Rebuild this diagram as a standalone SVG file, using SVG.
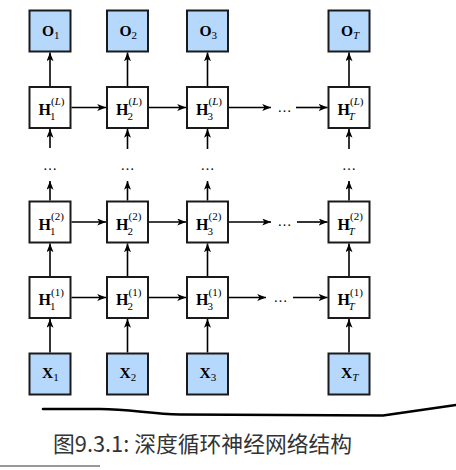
<svg xmlns="http://www.w3.org/2000/svg" width="456" height="470" viewBox="0 0 456 470">
<style>
.box{fill:#ffffff;stroke:#1a1a1a;stroke-width:2}
.io{fill:#b5d8fc;stroke:#1a1a1a;stroke-width:2}
.lbl{font-family:"Liberation Serif",serif;font-weight:bold;font-size:16px;fill:#000}
.big{font-family:"Liberation Serif",serif;font-weight:bold;font-size:15.5px;fill:#000}
.sub{font-family:"Liberation Serif",serif;font-weight:normal;font-size:11px;fill:#000}
.it{font-style:italic}
.dots{font-family:"Liberation Serif",serif;font-size:14px;fill:#000}
.conn line{stroke:#000;stroke-width:1.6;marker-end:url(#ah)}
.cap{font-family:"Noto Sans CJK SC","Noto Sans",sans-serif;font-size:21.8px;fill:#333}
</style>
<defs>
<marker id="ah" viewBox="0 0 10 8" refX="10" refY="4" markerWidth="9" markerHeight="7" markerUnits="userSpaceOnUse" orient="auto">
<path d="M0,0 L10,4 L0,8 L2.5,4 z" fill="#000"/>
</marker>
</defs>

<!-- O row -->
<g id="O1"><rect class="io" x="29.5" y="10.5" width="41" height="41"/><text class="big" x="42" y="36">O<tspan class="sub" dy="3">1</tspan></text></g>
<g id="O2"><rect class="io" x="107" y="10.5" width="41" height="41"/><text class="big" x="119.5" y="36">O<tspan class="sub" dy="3">2</tspan></text></g>
<g id="O3"><rect class="io" x="187" y="10.5" width="41" height="41"/><text class="big" x="199.5" y="36">O<tspan class="sub" dy="3">3</tspan></text></g>
<g id="OT"><rect class="io" x="328.5" y="10.5" width="41" height="41"/><text class="big" x="341" y="36">O<tspan class="sub it" dy="3">T</tspan></text></g>

<!-- H(L) row -->
<g id="HL1"><rect class="box" x="29.5" y="87" width="41" height="41"/><text class="lbl" x="38.5" y="115">H</text><text class="sub" x="51" y="105">(<tspan class="it">L</tspan>)</text><text class="sub" x="50" y="120">1</text></g>
<g id="HL2"><rect class="box" x="107" y="87" width="41" height="41"/><text class="lbl" x="116" y="115">H</text><text class="sub" x="128.5" y="105">(<tspan class="it">L</tspan>)</text><text class="sub" x="127.5" y="120">2</text></g>
<g id="HL3"><rect class="box" x="187" y="87" width="41" height="41"/><text class="lbl" x="196" y="115">H</text><text class="sub" x="208.5" y="105">(<tspan class="it">L</tspan>)</text><text class="sub" x="207.5" y="120">3</text></g>
<g id="HLT"><rect class="box" x="328.5" y="87" width="41" height="41"/><text class="lbl" x="337.5" y="115">H</text><text class="sub" x="350" y="105">(<tspan class="it">L</tspan>)</text><text class="sub it" x="348.5" y="120">T</text></g>

<!-- H(2) row -->
<g id="H21"><rect class="box" x="29.5" y="201.5" width="41" height="41"/><text class="lbl" x="38.5" y="229.5">H</text><text class="sub" x="51" y="220">(2)</text><text class="sub" x="50" y="234.5">1</text></g>
<g id="H22"><rect class="box" x="107" y="201.5" width="41" height="41"/><text class="lbl" x="116" y="229.5">H</text><text class="sub" x="128.5" y="220">(2)</text><text class="sub" x="127.5" y="234.5">2</text></g>
<g id="H23"><rect class="box" x="187" y="201.5" width="41" height="41"/><text class="lbl" x="196" y="229.5">H</text><text class="sub" x="208.5" y="220">(2)</text><text class="sub" x="207.5" y="234.5">3</text></g>
<g id="H2T"><rect class="box" x="328.5" y="201.5" width="41" height="41"/><text class="lbl" x="337.5" y="229.5">H</text><text class="sub" x="350" y="220">(2)</text><text class="sub it" x="348.5" y="234.5">T</text></g>

<!-- H(1) row -->
<g id="H11"><rect class="box" x="29.5" y="277" width="41" height="41"/><text class="lbl" x="38.5" y="305">H</text><text class="sub" x="51" y="295.5">(1)</text><text class="sub" x="50" y="310">1</text></g>
<g id="H12"><rect class="box" x="107" y="277" width="41" height="41"/><text class="lbl" x="116" y="305">H</text><text class="sub" x="128.5" y="295.5">(1)</text><text class="sub" x="127.5" y="310">2</text></g>
<g id="H13"><rect class="box" x="187" y="277" width="41" height="41"/><text class="lbl" x="196" y="305">H</text><text class="sub" x="208.5" y="295.5">(1)</text><text class="sub" x="207.5" y="310">3</text></g>
<g id="H1T"><rect class="box" x="328.5" y="277" width="41" height="41"/><text class="lbl" x="337.5" y="305">H</text><text class="sub" x="350" y="295.5">(1)</text><text class="sub it" x="348.5" y="310">T</text></g>

<!-- X row -->
<g id="X1"><rect class="io" x="29.5" y="353.5" width="41" height="41"/><text class="big" x="42" y="377.5">X<tspan class="sub" dy="3">1</tspan></text></g>
<g id="X2"><rect class="io" x="107" y="353.5" width="41" height="41"/><text class="big" x="119.5" y="377.5">X<tspan class="sub" dy="3">2</tspan></text></g>
<g id="X3"><rect class="io" x="187" y="353.5" width="41" height="41"/><text class="big" x="199.5" y="377.5">X<tspan class="sub" dy="3">3</tspan></text></g>
<g id="XT"><rect class="io" x="328.5" y="353.5" width="41" height="41"/><text class="big" x="341" y="377.5">X<tspan class="sub it" dy="3">T</tspan></text></g>

<!-- dots -->
<g id="dots">
<text class="dots" x="50" y="170" text-anchor="middle">…</text>
<text class="dots" x="127.5" y="170" text-anchor="middle">…</text>
<text class="dots" x="207.5" y="170" text-anchor="middle">…</text>
<text class="dots" x="349" y="170" text-anchor="middle">…</text>
<text class="dots" x="284.5" y="112" text-anchor="middle">…</text>
<text class="dots" x="284.5" y="226" text-anchor="middle">…</text>
<text class="dots" x="280.5" y="301.5" text-anchor="middle">…</text>
</g>

<g class="conn" id="connectors">
<!-- up to O -->
<line x1="50" y1="86" x2="50" y2="52.5"/>
<line x1="127.5" y1="86" x2="127.5" y2="52.5"/>
<line x1="207.5" y1="86" x2="207.5" y2="52.5"/>
<line x1="349" y1="86" x2="349" y2="52.5"/>
<!-- into H(L) from below -->
<line x1="50" y1="148" x2="50" y2="129"/>
<line x1="127.5" y1="149" x2="127.5" y2="129"/>
<line x1="207.5" y1="149" x2="207.5" y2="129"/>
<line x1="349" y1="149" x2="349" y2="129"/>
<!-- out of H(2) up -->
<line x1="50" y1="200.5" x2="50" y2="181"/>
<line x1="127.5" y1="200.5" x2="127.5" y2="181"/>
<line x1="207.5" y1="200.5" x2="207.5" y2="181"/>
<line x1="349" y1="200.5" x2="349" y2="181"/>
<!-- H(1) to H(2) -->
<line x1="50" y1="276" x2="50" y2="243.5"/>
<line x1="127.5" y1="276" x2="127.5" y2="243.5"/>
<line x1="207.5" y1="276" x2="207.5" y2="243.5"/>
<line x1="349" y1="276" x2="349" y2="243.5"/>
<!-- X to H(1) -->
<line x1="50" y1="352.5" x2="50" y2="319"/>
<line x1="127.5" y1="352.5" x2="127.5" y2="319"/>
<line x1="207.5" y1="352.5" x2="207.5" y2="319"/>
<line x1="349" y1="352.5" x2="349" y2="319"/>
<!-- horizontal H(L) -->
<line x1="71.5" y1="107.5" x2="106" y2="107.5"/>
<line x1="149" y1="107.5" x2="186" y2="107.5"/>
<line x1="229" y1="107.5" x2="271" y2="107.5"/>
<line x1="296" y1="107.5" x2="327.5" y2="107.5"/>
<!-- horizontal H(2) -->
<line x1="71.5" y1="222" x2="106" y2="222"/>
<line x1="149" y1="222" x2="186" y2="222"/>
<line x1="229" y1="222" x2="271" y2="222"/>
<line x1="297" y1="222" x2="327.5" y2="222"/>
<!-- horizontal H(1) -->
<line x1="71.5" y1="297.5" x2="106" y2="297.5"/>
<line x1="149" y1="297.5" x2="186" y2="297.5"/>
<line x1="229" y1="297.5" x2="266" y2="297.5"/>
<line x1="293" y1="297.5" x2="327.5" y2="297.5"/>
</g>

<!-- hand-drawn underline and rule -->
<path d="M43,409 L100,409 C130,409 150,414 180,414.5 L383,415.5 L456,405" fill="none" stroke="#000" stroke-width="2.6" stroke-linejoin="round" stroke-linecap="round"/>
<line x1="0" y1="466" x2="100" y2="466" stroke="#333" stroke-width="1"/>

<text class="cap" x="53" y="452">图9.3.1: 深度循环神经网络结构</text>
</svg>
